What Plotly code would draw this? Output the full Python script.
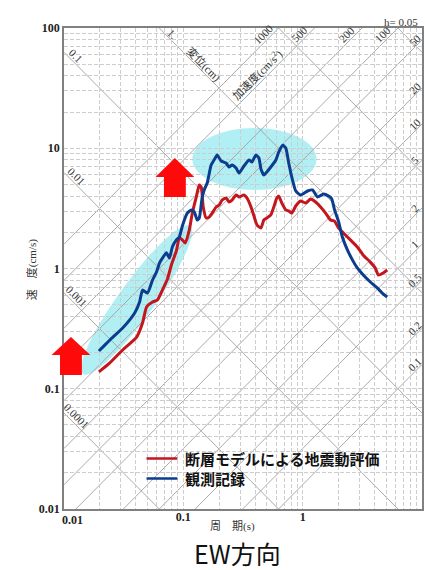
import numpy as np
import plotly.graph_objects as go

# Pseudo-velocity response spectra (h = 0.05), EW component
period_model = [0.0196, 0.0242, 0.0310, 0.0406, 0.0455, 0.0492, 0.0552, 0.0607, 0.0668, 0.0736,
                0.0794, 0.0874, 0.0926, 0.0981, 0.104, 0.1122, 0.1189, 0.1283, 0.136, 0.1413,
                0.1468, 0.1555, 0.1648, 0.1746, 0.1884, 0.1995, 0.2113, 0.228, 0.2415, 0.256,
                0.2767, 0.293, 0.322, 0.341, 0.369, 0.391, 0.414, 0.447, 0.473, 0.501,
                0.541, 0.573, 0.607, 0.631, 0.668, 0.722, 0.764, 0.81, 0.875, 0.962,
                1.059, 1.166, 1.283, 1.413, 1.556, 1.711, 1.848, 2.0, 2.197, 2.51,
                2.87, 3.22, 3.69, 4.06, 4.30, 4.73, 5.11]
vel_model = [0.138, 0.164, 0.210, 0.269, 0.352, 0.479, 0.526, 0.547, 0.662, 0.818,
             1.07, 1.40, 1.80, 1.73, 1.63, 2.09, 2.89, 3.93, 4.95, 4.76,
             3.25, 2.63, 2.68, 2.89, 3.25, 3.37, 3.71, 3.86, 3.57, 3.71,
             4.09, 3.93, 4.09, 3.86, 3.25, 2.73, 2.30, 2.17, 2.53, 2.63,
             2.79, 3.25, 3.86, 4.00, 3.51, 3.07, 3.01, 2.89, 3.31, 3.64,
             3.51, 3.78, 3.57, 3.25, 2.89, 2.53, 2.48, 2.17, 1.97, 1.73,
             1.51, 1.29, 1.13, 1.01, 0.883, 0.918, 0.972]

period_obs = [0.0196, 0.0242, 0.0310, 0.0391, 0.0430, 0.0455, 0.0501, 0.0552, 0.0596, 0.0631,
              0.0668, 0.0721, 0.0764, 0.0809, 0.0874, 0.0926, 0.0981, 0.108, 0.1166, 0.1236,
              0.1309, 0.136, 0.144, 0.1496, 0.1585, 0.171, 0.181, 0.192, 0.2074, 0.228,
              0.2415, 0.256, 0.2767, 0.293, 0.322, 0.355, 0.376, 0.4056, 0.43, 0.447,
              0.473, 0.501, 0.541, 0.596, 0.631, 0.681, 0.722, 0.764, 0.81, 0.875,
              0.962, 1.10, 1.21, 1.33, 1.50, 1.65, 1.75, 1.85, 2.0, 2.15,
              2.37, 2.61, 2.87, 3.22, 3.69, 4.22, 4.64, 5.11]
vel_obs = [0.206, 0.254, 0.320, 0.427, 0.526, 0.662, 0.625, 0.802, 0.935, 1.11,
           1.22, 1.35, 1.22, 1.51, 1.73, 1.83, 2.26, 2.89, 3.06, 2.95,
           2.53, 2.63, 3.93, 4.50, 5.14, 7.26, 7.98, 8.79, 7.83, 7.54,
           6.98, 7.26, 6.85, 6.22, 7.12, 7.98, 7.69, 8.79, 8.29, 6.72,
           5.99, 6.35, 6.98, 7.98, 9.31, 10.6, 10.05, 7.54, 5.77, 4.41,
           4.09, 4.41, 4.50, 3.93, 4.17, 4.00, 3.8, 3.07, 2.45, 1.83,
           1.43, 1.18, 1.01, 0.883, 0.772, 0.689, 0.625, 0.579]

series_names = ["断層モデルによる地震動評価", "観測記録"]
series_colors = ["#c3161d", "#0b3d8e"]

# tripartite grid levels
disp_levels = [0.0001, 0.001, 0.01, 0.1, 1, 10, 100]                          # cm
acc_levels = [0.1, 0.2, 0.5, 1, 2, 5, 10, 20, 50, 100, 200, 500, 1000]        # cm/s^2
acc_edge_labels = [0.1, 0.2, 0.5, 1, 2, 5, 10, 20, 50]
acc_top_labels = [100, 200, 500, 1000]
disp_left_labels = [0.0001, 0.001, 0.01, 0.1]
x_ticks = [0.01, 0.1, 1, 10]
y_ticks = [0.01, 0.1, 1, 10, 100]

T_MIN, T_MAX = 0.01, 10.0
V_MIN, V_MAX = 0.01, 100.0
TWO_PI = 2 * np.pi

W, H = 425, 570
ML, MR, MT, MB = 64, 1, 28, 61
PW, PH = W - ML - MR, H - MT - MB


def px(x, y):
    """pixel position -> paper fraction"""
    return (x - ML) / PW, (H - MB - y) / PH


def fmt(v):
    return ("%g" % v)


fig = go.Figure()

# diagonal lines: constant acceleration (V = A T / 2pi) and displacement (V = 2pi D / T)
shapes = []
diag = dict(color="#a0a0a0", width=0.9)
for a in acc_levels:
    c = a / TWO_PI
    t0 = max(T_MIN, V_MIN / c)
    t1 = min(T_MAX, V_MAX / c)
    if t0 < t1:
        shapes.append(dict(type="line", xref="x", yref="y", x0=t0, y0=c * t0, x1=t1, y1=c * t1,
                           line=diag, layer="below"))
for d in disp_levels:
    c = TWO_PI * d
    t0 = max(T_MIN, c / V_MAX)
    t1 = min(T_MAX, c / V_MIN)
    if t0 < t1:
        shapes.append(dict(type="line", xref="x", yref="y", x0=t0, y0=c / t0, x1=t1, y1=c / t1,
                           line=diag, layer="below"))

# highlighted zones
cyan = "rgba(90,222,232,0.48)"
ex0, ey0 = px(193, 190)
ex1, ey1 = px(318, 128)
shapes.append(dict(type="circle", xref="paper", yref="paper", x0=ex0, y0=ey0, x1=ex1, y1=ey1,
                   fillcolor=cyan, line=dict(width=0), layer="below"))

p_a, p_b = np.array([83.0, 374.0]), np.array([191.0, 226.0])
cen = (p_a + p_b) / 2
u = (p_b - p_a) / np.linalg.norm(p_b - p_a)
v = np.array([-u[1], u[0]])
half_len, half_w = np.linalg.norm(p_b - p_a) / 2, 18.0
pts = []
for th in np.linspace(0, 2 * np.pi, 72, endpoint=False):
    q = cen + half_len * np.cos(th) * u + half_w * np.sin(th) * v
    fx, fy = px(q[0], q[1])
    pts.append("%.5f,%.5f" % (fx, fy))
shapes.append(dict(type="path", xref="paper", yref="paper", path="M" + " L".join(pts) + " Z",
                   fillcolor=cyan, line=dict(width=0), layer="below"))


def up_arrow(tip_x, tip_y, head_w, head_h, shaft_w, total_h):
    hx = head_w / 2
    sx = shaft_w / 2
    poly = [(tip_x, tip_y), (tip_x + hx, tip_y + head_h), (tip_x + sx, tip_y + head_h),
            (tip_x + sx, tip_y + total_h), (tip_x - sx, tip_y + total_h),
            (tip_x - sx, tip_y + head_h), (tip_x - hx, tip_y + head_h)]
    path = "M" + " L".join("%.5f,%.5f" % px(x, y) for x, y in poly) + " Z"
    return dict(type="path", xref="paper", yref="paper", path=path,
                fillcolor="#ff0a0a", line=dict(width=0), layer="above")


shapes.append(up_arrow(175.5, 158, 39, 19, 22, 39))
shapes.append(up_arrow(71, 337, 39, 18, 22, 38))

# legend box (drawn by hand so rows sit close together)
bx0, by0 = px(140, 492)
bx1, by1 = px(402, 447)
shapes.append(dict(type="rect", xref="paper", yref="paper", x0=bx0, y0=by0, x1=bx1, y1=by1,
                   fillcolor="white", line=dict(width=0), layer="below"))
legend_rows = [458.5, 478.5]
ann = []
for name, col, row in zip(series_names, series_colors, legend_rows):
    lx0, ly0 = px(147, row)
    lx1, _ = px(178, row)
    shapes.append(dict(type="line", xref="paper", yref="paper", x0=lx0, y0=ly0, x1=lx1, y1=ly0,
                       line=dict(color=col, width=2.5), layer="above"))
    tx, ty = px(184, row)
    ann.append(dict(xref="paper", yref="paper", x=tx, y=ty, xanchor="left", yanchor="middle",
                    text=name, showarrow=False,
                    font=dict(family="Noto Sans CJK JP", size=15, color="#111111", weight="bold")))

fig.add_trace(go.Scatter(x=period_model, y=vel_model, mode="lines", name=series_names[0],
                         showlegend=False,
                         line=dict(color=series_colors[0], width=3, shape="spline", smoothing=0.5)))
fig.add_trace(go.Scatter(x=period_obs, y=vel_obs, mode="lines", name=series_names[1],
                         showlegend=False,
                         line=dict(color=series_colors[1], width=3, shape="spline", smoothing=0.5)))

# grid-line labels
serif = "Liberation Serif, Noto Sans CJK JP"
lbl_font = dict(family=serif, size=11, color="#333333")
t_edge = 8.75
for a in acc_edge_labels:
    ann.append(dict(x=np.log10(t_edge), y=np.log10(a * t_edge / TWO_PI), text=fmt(a),
                    textangle=-45, yshift=7, showarrow=False, font=lbl_font))
v_top = 89.0
for a in acc_top_labels:
    t = TWO_PI * v_top / a
    ann.append(dict(x=np.log10(t), y=np.log10(v_top), text=fmt(a), textangle=-45,
                    xshift=-9, showarrow=False, font=lbl_font))
t_left = 0.0122
for d in disp_left_labels:
    ann.append(dict(x=np.log10(t_left), y=np.log10(TWO_PI * d / t_left), text=fmt(d),
                    textangle=45, yshift=7, xshift=2, showarrow=False, font=lbl_font))
ann.append(dict(x=np.log10(TWO_PI * 1 / v_top), y=np.log10(v_top), text="1.", textangle=45,
                xshift=7, showarrow=False, font=lbl_font))
ann.append(dict(x=np.log10(0.136), y=np.log10(TWO_PI * 1 / 0.136), text="変位(cm)",
                textangle=45, xshift=4, yshift=4, showarrow=False, font=lbl_font))
ann.append(dict(x=np.log10(0.447), y=np.log10(500 * 0.447 / TWO_PI),
                text="加速度(cm/s<sup>2</sup>)", textangle=-45, xshift=-3, yshift=7,
                showarrow=False, font=lbl_font))

# first period tick label sits just right of the corner, beside the velocity "0.01"
tick_font = dict(family="Liberation Serif", size=12, color="#222222", weight="bold")
ann.append(dict(x=np.log10(x_ticks[0]), y=0, yref="paper", xshift=8, yshift=-2,
                xanchor="center", yanchor="top", text=fmt(x_ticks[0]), showarrow=False,
                font=tick_font))

# titles
title_font = dict(family=serif, size=11, color="#333333")
for text, cx, cy, ang, fnt in [
    ("h= 0.05", 403, 22, 0, title_font),
    ("周　期(s)", 233, 526, 0, title_font),
    ("速　度(cm/s)", 32, 270, -90, title_font),
    ("EW方向", 238, 553, 0, dict(family="Noto Sans CJK JP", size=25, color="#111111")),
]:
    fx, fy = px(cx, cy)
    ann.append(dict(xref="paper", yref="paper", x=fx, y=fy, xanchor="center", yanchor="middle",
                    text=text, textangle=ang, showarrow=False, font=fnt))

grid_col = "#cdcdcd"
axis_common = dict(type="log", showline=True, linecolor="#808080", linewidth=1.5, mirror=True,
                   showgrid=True, gridcolor=grid_col, gridwidth=1, griddash="4px,2px",
                   zeroline=False, ticks="", tickfont=tick_font,
                   minor=dict(dtick="D1", showgrid=True, gridcolor=grid_col, gridwidth=1,
                              griddash="4px,2px", ticks=""))

fig.update_xaxes(range=[np.log10(T_MIN), np.log10(T_MAX)], tickvals=x_ticks,
                 ticktext=[""] + [fmt(t) for t in x_ticks[1:]], ticklabelstandoff=-4,
                 **axis_common)
fig.update_yaxes(range=[np.log10(V_MIN), np.log10(V_MAX)], tickvals=y_ticks,
                 ticktext=[fmt(t) for t in y_ticks], **axis_common)

fig.update_layout(
    width=W, height=H,
    margin=dict(l=ML, r=MR, t=MT, b=MB),
    paper_bgcolor="white", plot_bgcolor="white",
    shapes=shapes, annotations=ann,
    showlegend=False,
)

fig.write_html("out.html")
